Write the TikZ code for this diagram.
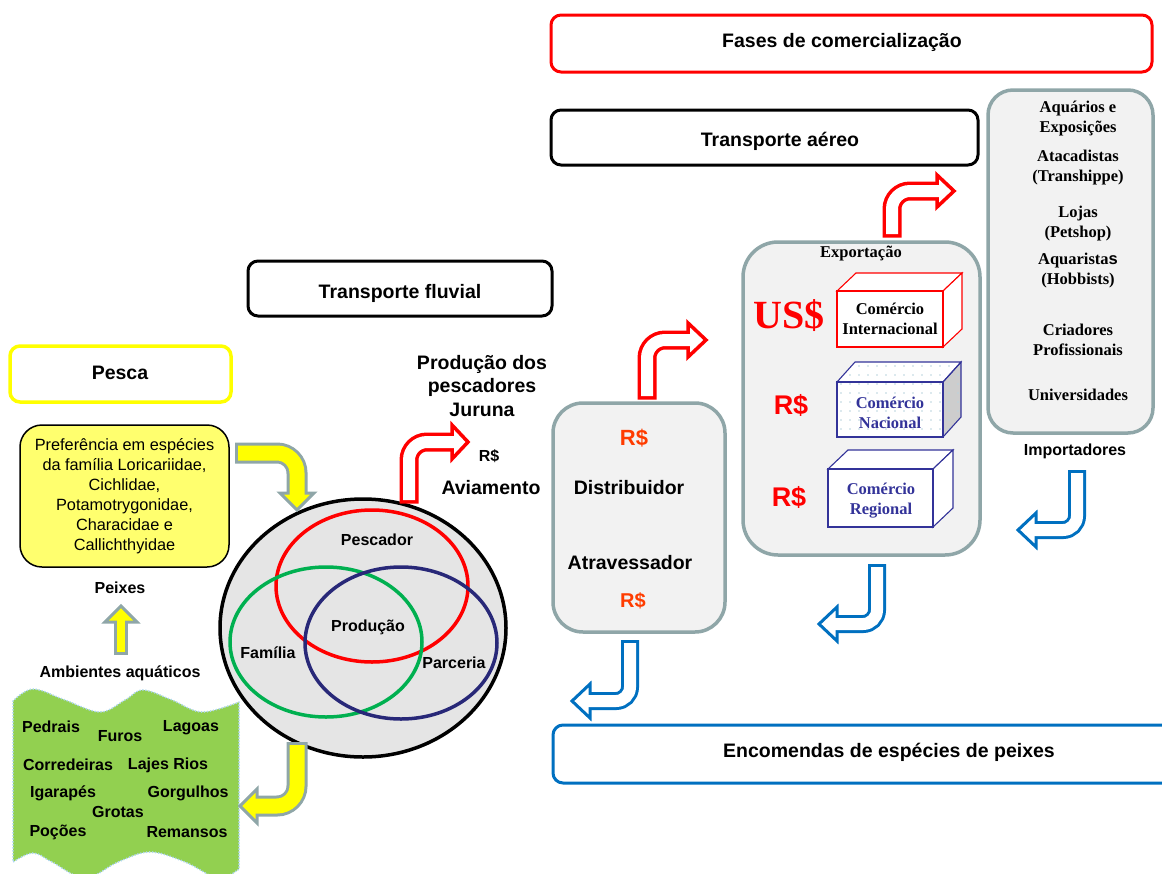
\documentclass[tikz,border=0pt]{standalone}
\usepackage{fontspec}
\setmainfont{Liberation Serif}
\setsansfont{Liberation Sans}
\definecolor{tealgray}{RGB}{143,166,168}
\definecolor{panel}{RGB}{242,242,242}
\definecolor{lemon}{RGB}{255,255,110}
\definecolor{sunyellow}{RGB}{255,255,0}
\definecolor{leafgreen}{RGB}{146,208,80}
\definecolor{dotblue}{RGB}{175,215,238}
\definecolor{seablue}{RGB}{0,112,192}
\definecolor{venngreen}{RGB}{0,176,80}
\definecolor{vennnavy}{RGB}{40,40,120}
\definecolor{cubenavy}{RGB}{51,51,153}
\definecolor{orangered}{RGB}{255,60,0}
\definecolor{ovalfill}{RGB}{229,229,229}
\definecolor{sidegray}{RGB}{205,205,205}
\definecolor{speck}{RGB}{185,212,222}

% block arrow: outline stroke, head, then inner fill stroke
\newcommand\bentblock[3]{%
  \draw[#1 outer] #2;
  \filldraw[#1 head] #3;
  \draw[#1 inner] #2;}

\begin{document}
\begin{tikzpicture}[x=1pt,y=-1pt,
  bigsans/.style={font=\sffamily\bfseries\fontsize{19.5}{23.5}\selectfont, inner sep=0pt, align=center},
  midsans/.style={font=\sffamily\bfseries\fontsize{16}{18}\selectfont, inner sep=0pt},
  serifb/.style={font=\rmfamily\bfseries\fontsize{16.5}{20}\selectfont, inner sep=0pt, align=center},
  titlebox/.style={draw, line width=3pt, rounded corners=10pt, fill=white, inner sep=0pt},
  panelbox/.style={draw=tealgray, fill=panel, line width=3.5pt, inner sep=0pt},
  cubeline/.style={line width=1.1pt, line join=miter},
  yel outer/.style={draw=tealgray, line width=21pt, rounded corners=20pt, shorten <=-3pt},
  yel inner/.style={draw=sunyellow, line width=15pt, rounded corners=20pt, shorten >=-4pt},
  yel head/.style={fill=sunyellow, draw=tealgray, line width=3pt, line join=miter},
  yelsm outer/.style={draw=tealgray, line width=14pt, shorten <=-3pt},
  yelsm inner/.style={draw=sunyellow, line width=8pt, shorten >=-4pt},
  yelsm head/.style={fill=sunyellow, draw=tealgray, line width=3pt, line join=miter},
  redar outer/.style={draw=red, line width=19pt, rounded corners=18pt, shorten <=-3.5pt},
  redar inner/.style={draw=white, line width=12pt, rounded corners=18pt, shorten >=-4pt},
  redar head/.style={fill=white, draw=red, line width=3.5pt, line join=miter},
  bluar outer/.style={draw=seablue, line width=18pt, rounded corners=14pt, shorten <=-3pt},
  bluar inner/.style={draw=white, line width=12pt, rounded corners=14pt, shorten >=-4pt},
  bluar head/.style={fill=white, draw=seablue, line width=3pt, line join=miter},
]
\useasboundingbox (0,0) rectangle (1162,873);
\begin{scope}
\clip (0,0) rectangle (1162,873);

% ---------- title boxes ----------
\node[titlebox, draw=red, minimum width=601pt, minimum height=57pt] (fases) at (851.5,43.5) {};
\node[bigsans] (fasestxt) at (842,42) {Fases de comercialização};

\node[titlebox, minimum width=427pt, minimum height=55pt] (aereo) at (764.5,137.5) {};
\node[bigsans] (aereotxt) at (780,141) {Transporte aéreo};

\node[titlebox, minimum width=304pt, minimum height=55pt] (fluvial) at (400,288.5) {};
\node[bigsans] (fluvialtxt) at (400,293) {Transporte fluvial};

\node[titlebox, draw=sunyellow, line width=3.5pt, minimum width=221pt, minimum height=56pt] (pesca) at (120.5,374) {};
\node[bigsans] (pescatxt) at (120,373) {Pesca};

\node[titlebox, draw=seablue, minimum width=622pt, minimum height=58pt] (encom) at (864,754) {};
\node[bigsans] (encomtxt) at (889,752) {Encomendas de espécies de peixes};

% ---------- left column ----------
\node[draw=black, fill=lemon, line width=1.5pt, rounded corners=22pt,
      minimum width=209pt, minimum height=142pt, align=center, inner sep=0pt,
      font=\sffamily\fontsize{16.3}{20}\selectfont] (pref) at (124.5,496)
  {Preferência em espécies\\da família Loricariidae,\\Cichlidae,\\Potamotrygonidae,\\Characidae e\\Callichthyidae};

\node[midsans] (peixes) at (120,588) {Peixes};
\node[midsans] (ambientes) at (120,673) {Ambientes aquáticos};

% wavy panel of aquatic environments
\draw[fill=leafgreen, draw=dotblue, line width=2pt, line cap=round, dash pattern=on 0pt off 3pt]
  (13,701) -- plot[smooth, tension=0.6] coordinates {(13,701) (33,689) (65,700) (100,712) (125,700) (143,690) (172,700) (202,712) (239,702)}
  -- (239,869)
  -- plot[smooth, tension=0.6] coordinates {(239,869) (218,878) (185,862) (150,852) (118,862) (85,878) (52,862) (33,853) (13,862)}
  -- cycle;

\begin{scope}[every node/.style={midsans}]
\node (w1) at (51,727) {Pedrais};
\node (w2) at (120,736) {Furos};
\node (w3) at (191,728) {Lagoas};
\node (w4) at (68,765) {Corredeiras};
\node (w5) at (168,765) {Lajes Rios};
\node (w6) at (63,793) {Igarapés};
\node (w7) at (188,793) {Gorgulhos};
\node (w8) at (118,812) {Grotas};
\node (w9) at (58,832) {Poções};
\node (w10) at (187,832) {Remansos};
\end{scope}

% ---------- production ellipse ----------
\draw[fill=ovalfill, line width=3.5pt] (363,628) ellipse [x radius=143, y radius=129];
\draw[red, line width=3.5pt] (372,586) ellipse [x radius=96, y radius=76];
\draw[venngreen, line width=3.5pt] (326,642) ellipse [x radius=96, y radius=75];
\draw[vennnavy, line width=3.5pt] (401,643) ellipse [x radius=96, y radius=76];
\node[midsans] (pescador) at (377,540) {Pescador};
\node[midsans] (producao) at (368,627) {Produção};
\node[midsans] (familia) at (268,653) {Família};
\node[midsans] (parceria) at (454,663) {Parceria};

% ---------- middle labels ----------
\node[bigsans] (juruna) at (482,386) {Produção dos\\pescadores\\Juruna};
\node[midsans] (rsav) at (489,456) {R\$};
\node[bigsans] (aviam) at (491,488) {Aviamento};

% ---------- distributor panel ----------
\node[panelbox, rounded corners=30pt, minimum width=172pt, minimum height=229pt] (dist) at (639,517.5) {};
\node[font=\sffamily\bfseries\fontsize{22}{24}\selectfont, text=orangered, inner sep=0pt] (rsd1) at (634,438) {R\$};
\node[bigsans] (distr) at (629,488) {Distribuidor};
\node[bigsans] (atrav) at (630,563) {Atravessador};
\node[font=\sffamily\bfseries\fontsize{20}{22}\selectfont, text=orangered, inner sep=0pt] (rsd2) at (633,601) {R\$};

% ---------- export panel ----------
\node[panelbox, rounded corners=35pt, minimum width=237pt, minimum height=313pt] (export) at (861.5,398.5) {};
\node[serifb] (exptxt) at (861,254) {Exportação};

% international trade cube
\filldraw[cubeline, draw=red, fill=white] (837,291) -- (856,273) -- (962,273) -- (943,291) -- cycle;
\filldraw[cubeline, draw=red, fill=white] (943,291) -- (962,273) -- (962,329) -- (943,347) -- cycle;
\filldraw[cubeline, draw=red, fill=white] (837,291) rectangle (943,347);
\node[serifb] (cint) at (890,319) {Comércio\\Internacional};

% national trade cube (speckled)
\fill[white] (837,382) -- (855,362) -- (961,362) -- (943,382) -- cycle;
\fill[white] (837,382) rectangle (943,437);
\fill[sidegray] (943,382) -- (961,362) -- (961,417) -- (943,437) -- cycle;
\begin{scope}
  \clip (837,382) -- (855,362) -- (961,362) -- (961,417) -- (943,437) -- (837,437) -- cycle;
  \foreach \x in {841,850,...,961}
    \foreach \y in {366,375,...,437}
      \fill[speck] (\x,\y) circle (0.8);
\end{scope}
\draw[cubeline, draw=cubenavy] (837,382) -- (855,362) -- (961,362) -- (943,382) -- cycle;
\draw[cubeline, draw=cubenavy] (943,382) -- (961,362) -- (961,417) -- (943,437);
\draw[cubeline, draw=cubenavy] (837,382) rectangle (943,437);
\node[serifb, text=cubenavy] (cnac) at (890,413) {Comércio\\Nacional};

% regional trade cube
\filldraw[cubeline, draw=cubenavy, fill=white] (828,469) -- (848,450) -- (953,450) -- (933,469) -- cycle;
\filldraw[cubeline, draw=cubenavy, fill=white] (933,469) -- (953,450) -- (953,508) -- (933,527) -- cycle;
\filldraw[cubeline, draw=cubenavy, fill=white] (828,469) rectangle (933,527);
\node[serifb, text=cubenavy] (creg) at (881,501) {Comércio\\Regional};

\node[font=\rmfamily\bfseries\fontsize{40}{42}\selectfont, text=red, inner sep=0pt] (uss) at (789,316) {US\$};
\node[font=\sffamily\bfseries\fontsize{27}{29}\selectfont, text=red, inner sep=0pt] (rsn) at (791,405) {R\$};
\node[font=\sffamily\bfseries\fontsize{27}{29}\selectfont, text=red, inner sep=0pt] (rsr) at (789,497) {R\$};

% ---------- importers panel ----------
\node[panelbox, rounded corners=25pt, minimum width=165pt, minimum height=343pt] (imp) at (1070.5,261.5) {};
\node[serifb] (i1) at (1078,119) {Aquários e\\Exposições};
\node[serifb] (i2) at (1078,167.5) {Atacadistas\\(Transhippe)};
\node[serifb] (i3) at (1078,223.5) {Lojas\\(Petshop)};
\node[serifb] (i4) at (1078,270.5) {Aquarista{\sffamily s}\\(Hobbists)};
\node[serifb] (i5) at (1078,339.5) {Criadores\\Profissionais};
\node[serifb] (i6) at (1078,395) {Universidades};
\node[midsans] (importad) at (1075,451) {Importadores};

% ---------- block arrows ----------
\bentblock{yel}{(238,453) -- (297,453) -- (297,493)}{(280,493) -- (297,510) -- (314,493) -- cycle}
\bentblock{yel}{(297,745) -- (297,806) -- (257,806)}{(257,789) -- (240,806) -- (257,823) -- cycle}
\bentblock{yelsm}{(121,652) -- (121,622)}{(105,622) -- (121,606) -- (137,622) -- cycle}

\bentblock{redar}{(409,500) -- (409,442) -- (452,442)}{(452,425) -- (468,442) -- (452,459) -- cycle}
\bentblock{redar}{(647,396) -- (647,340) -- (688,340)}{(688,323) -- (706,340) -- (688,357) -- cycle}
\bentblock{redar}{(892,234) -- (892,191) -- (937,191)}{(937,175) -- (954,191) -- (937,207) -- cycle}

\bentblock{bluar}{(1077,473) -- (1077,530) -- (1036,530)}{(1036,513) -- (1018,530) -- (1036,547) -- cycle}
\bentblock{bluar}{(877,567) -- (877,624) -- (837,624)}{(837,607) -- (819,624) -- (837,641) -- cycle}
\bentblock{bluar}{(630,643) -- (630,701) -- (590,701)}{(590,684) -- (572,701) -- (590,718) -- cycle}
\end{scope}
\end{tikzpicture}
\end{document}
